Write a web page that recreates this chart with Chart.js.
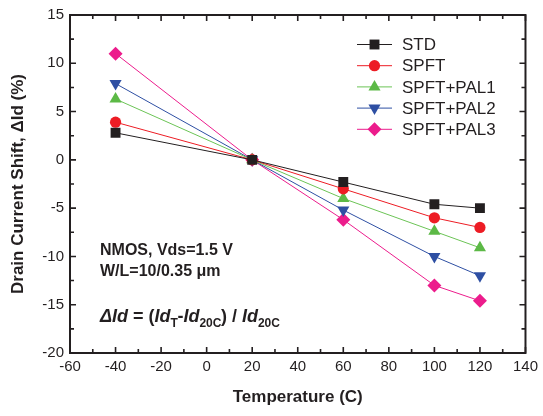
<!DOCTYPE html>
<html><head><meta charset="utf-8">
<script src="https://cdn.jsdelivr.net/npm/chart.js@4/dist/chart.umd.min.js"></script>
<style>html,body{margin:0;padding:0;background:#fff}#wrap{width:543px;height:416px}</style>
</head><body><div id="wrap"><canvas id="c" width="543" height="416"></canvas></div>
<script>
const temperatures = [-40, 20, 60, 100, 120];
const seriesNames = ["STD", "SPFT", "SPFT+PAL1", "SPFT+PAL2", "SPFT+PAL3"];
const stdValues   = [2.8, 0, -2.3, -4.6, -5.0];
const spftValues  = [3.9, 0, -3.0, -6.0, -7.0];
const pal1Values  = [6.3, 0, -4.0, -7.4, -9.1];
const pal2Values  = [7.9, 0, -5.2, -10.0, -12.0];
const pal3Values  = [11.0, 0, -6.2, -13.0, -14.6];
const xTicks = [-60, -40, -20, 0, 20, 40, 60, 80, 100, 120, 140];
const yTicks = [-20, -15, -10, -5, 0, 5, 10, 15];

const styles = [
  {color:'#231f20', line:'#231f20', shape:'rect', rot:0, r:7},
  {color:'#ed1c24', line:'#ed1c24', shape:'circle', rot:0, r:5.6},
  {color:'#5cb946', line:'#6cc456', shape:'triangle', rot:0, r:7},
  {color:'#2e4fa3', line:'#2e4fa3', shape:'triangle', rot:180, r:7},
  {color:'#ec1c8c', line:'#ec1c8c', shape:'rectRot', rot:0, r:7}
];
const allValues = [stdValues, spftValues, pal1Values, pal2Values, pal3Values];

const datasets = allValues.map((vals, i) => ({
  label: seriesNames[i],
  data: temperatures.map((t, j) => ({x: t, y: vals[j]})),
  borderColor: styles[i].line,
  backgroundColor: styles[i].color,
  borderWidth: 1,
  pointStyle: styles[i].shape,
  pointRotation: styles[i].rot,
  pointRadius: styles[i].r,
  pointBorderWidth: 0,
  pointBorderColor: styles[i].color,
  showLine: true,
  tension: 0
}));

const FRAME = '#231f20';

const framePlugin = {
  id: 'frame',
  afterDraw(chart) {
    const ctx = chart.ctx, a = chart.chartArea;
    const xs = chart.scales.x, ys = chart.scales.y;
    ctx.save();
    ctx.strokeStyle = FRAME;
    ctx.lineWidth = 2;
    ctx.strokeRect(a.left, a.top, a.right - a.left, a.bottom - a.top);
    ctx.lineWidth = 1.6;
    ctx.beginPath();
    for (let v = -60; v <= 140; v += 10) {
      const px = xs.getPixelForValue(v);
      const L = (v % 20 === 0) ? 6 : 4;
      ctx.moveTo(px, a.bottom); ctx.lineTo(px, a.bottom - L);
      ctx.moveTo(px, a.top); ctx.lineTo(px, a.top + L);
    }
    for (let v = -20; v <= 15; v += 2.5) {
      const py = ys.getPixelForValue(v);
      const L = (v % 5 === 0) ? 6 : 4;
      ctx.moveTo(a.left, py); ctx.lineTo(a.left + L, py);
      ctx.moveTo(a.right, py); ctx.lineTo(a.right - L, py);
    }
    ctx.stroke();

    // legend
    const lx1 = 357, lx2 = 392, tx = 402;
    chart.data.datasets.forEach((ds, i) => {
      const y = 44.5 + i * 21.2;
      ctx.strokeStyle = ds.borderColor;
      ctx.lineWidth = 1;
      ctx.beginPath(); ctx.moveTo(lx1, y); ctx.lineTo(lx2, y); ctx.stroke();
      ctx.fillStyle = ds.backgroundColor;
      Chart.helpers.drawPoint(ctx, {pointStyle: ds.pointStyle, rotation: ds.pointRotation, radius: ds.pointRadius, borderWidth: 0}, (lx1 + lx2) / 2, y);
      ctx.fillStyle = FRAME;
      ctx.font = '17px "Liberation Sans", Arial, sans-serif';
      ctx.textBaseline = 'middle';
      ctx.textAlign = 'left';
      ctx.fillText(ds.label, tx, y + 1);
    });

    // annotations
    ctx.fillStyle = FRAME;
    ctx.textBaseline = 'alphabetic';
    ctx.font = 'bold 16px "Liberation Sans", Arial, sans-serif';
    ctx.fillText('NMOS, Vds=1.5 V', 100, 255);
    ctx.fillText('W/L=10/0.35 \u03bcm', 100, 276);

    const bi = 'italic bold 18px "Liberation Sans", Arial, sans-serif';
    const b = 'bold 18px "Liberation Sans", Arial, sans-serif';
    const sub = 'bold 12px "Liberation Sans", Arial, sans-serif';
    const parts = [
      ['\u0394Id', bi, 0], [' = (', b, 0], ['Id', bi, 0], ['T', sub, 5],
      ['-', b, 0], ['Id', bi, 0], ['20C', sub, 5], [') / ', b, 0],
      ['Id', bi, 0], ['20C', sub, 5]
    ];
    let x = 100; const base = 322;
    parts.forEach(p => {
      ctx.font = p[1];
      ctx.fillText(p[0], x, base + p[2]);
      x += ctx.measureText(p[0]).width - (p[1] === sub ? 0.5 : 0);
    });
    ctx.restore();
  }
};

new Chart(document.getElementById('c'), {
  type: 'scatter',
  data: { datasets },
  options: {
    responsive: false,
    animation: false,
    events: [],
    layout: { padding: { left: 0, right: 15, top: 14, bottom: 0 } },
    plugins: { legend: { display: false }, tooltip: { enabled: false } },
    scales: {
      x: {
        type: 'linear', min: -60, max: 140,
        afterBuildTicks(s) { s.ticks = xTicks.map(v => ({value: v})); },
        afterFit(s) { s.height = 63; },
        grid: { display: false, drawTicks: false },
        border: { display: false },
        ticks: { color: FRAME, padding: 5, maxRotation: 0, autoSkip: false,
                 font: { family: '"Liberation Sans", Arial, sans-serif', size: 15 } },
        title: { display: true, text: 'Temperature (C)', color: FRAME,
                 font: { family: '"Liberation Sans", Arial, sans-serif', size: 17, weight: 'bold' },
                 padding: { top: 0, bottom: 8 } }
      },
      y: {
        type: 'linear', min: -20, max: 15,
        afterBuildTicks(s) { s.ticks = yTicks.map(v => ({value: v})); },
        afterFit(s) { s.width = 70; },
        grid: { display: false, drawTicks: false },
        border: { display: false },
        ticks: { color: FRAME, padding: 6, autoSkip: false,
                 font: { family: '"Liberation Sans", Arial, sans-serif', size: 15 } },
        title: { display: true, text: 'Drain Current Shift, \u0394Id (%)', color: FRAME,
                 font: { family: '"Liberation Sans", Arial, sans-serif', size: 17, weight: 'bold' },
                 padding: { top: 8, bottom: 0 } }
      }
    }
  },
  plugins: [framePlugin]
});
</script></body></html>
